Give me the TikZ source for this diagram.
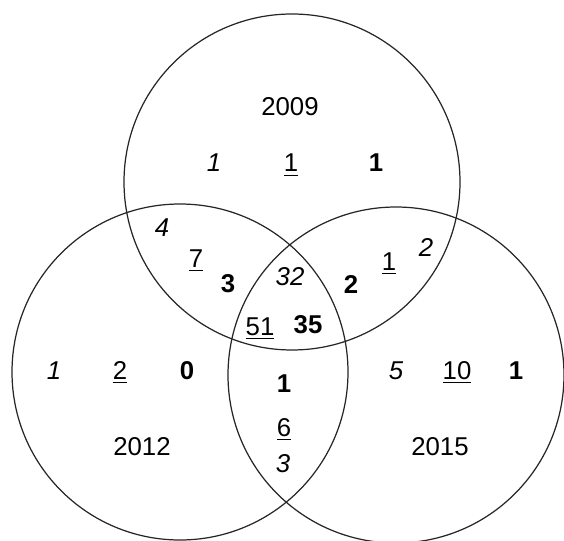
\documentclass[tikz,border=0pt]{standalone}
\usepackage{fontspec}
\setmainfont{Liberation Sans}
\usetikzlibrary{positioning}

\newcommand{\undl}[1]{\setbox0=\hbox{#1}\leavevmode\rlap{\vrule width\wd0 height -2.4pt depth 3.7pt}\box0}

\begin{document}
\begin{tikzpicture}[x=0.03cm, y=-0.03cm,
    every node/.style={font=\fontsize{22}{26}\selectfont, anchor=base, inner sep=0pt},
    ring/.style={black!85, line width=1.05pt},
    ital/.style={font=\fontsize{22}{26}\selectfont\itshape},
    bld/.style={font=\fontsize{22}{26}\selectfont\bfseries}]
      \useasboundingbox (0,0) rectangle (564,541);
      \clip (0,0) rectangle (564,541);

      \draw[ring] (292,182) circle (168);
      \draw[ring] (180,372) circle (168);
      \draw[ring] (396,375) circle (168);

      % year labels
      \node (y2009) at (290,116) {2009};
      \node (y2012) at (142,455) {2012};
      \node (y2015) at (440,455) {2015};

      % 2009 only
      \node[ital] (ta) at (214,172) {1};
      \node (tb) at (291,172) {\undl{1}};
      \node[bld] (tc) at (376,172) {1};

      % 2009 and 2012
      \node[ital] (la) at (162,236) {4};
      \node (lb) at (196,267) {\undl{7}};
      \node[bld] (lc) at (228,292) {3};

      % 2009 and 2015
      \node[ital] (ra) at (426,256) {2};
      \node (rb) at (389,270) {\undl{1}};
      \node[bld] (rc) at (351,293) {2};

      % all three
      \node[ital] (ma) at (290,285) {32};
      \node (mb) at (260,335) {\undl{51}};
      \node[bld] (mc) at (308,333) {35};

      % 2012 only
      \node[ital] (pa) at (54,379) {1};
      \node (pb) at (120,379) {\undl{2}};
      \node[bld] (pc) at (187,379) {0};

      % 2015 only
      \node[ital] (qa) at (396,379) {5};
      \node (qb) at (457,379) {\undl{10}};
      \node[bld] (qc) at (516,379) {1};

      % 2012 and 2015
      \node[bld] (ba) at (284,392) {1};
      \node (bb) at (284,436) {\undl{6}};
      \node[ital] (bc) at (283,472) {3};
\end{tikzpicture}
\end{document}
